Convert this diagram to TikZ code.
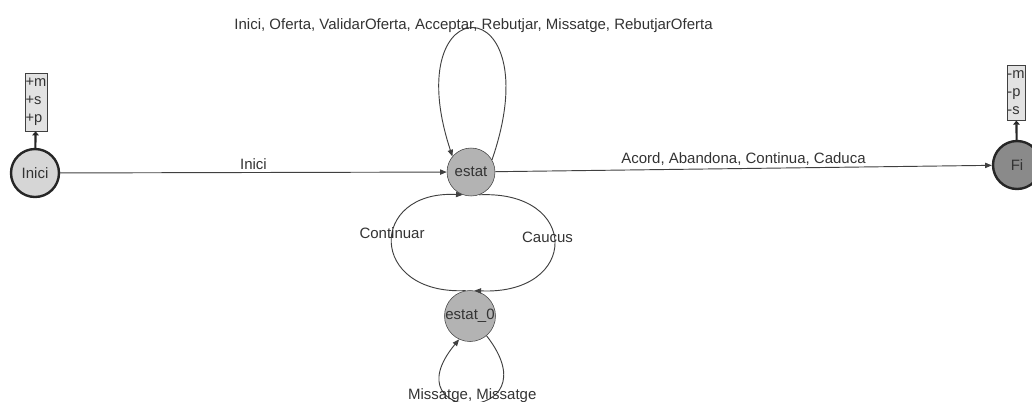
\documentclass[tikz,border=0pt]{standalone}
\usepackage{fontspec}
\setmainfont{Liberation Sans}
\usetikzlibrary{positioning,arrows.meta}
\definecolor{edgegray}{HTML}{404040}
\definecolor{labelgray}{HTML}{333333}
\definecolor{startfill}{HTML}{D6D6D6}
\definecolor{midfill}{HTML}{B3B3B3}
\definecolor{endfill}{HTML}{8A8A8A}
\definecolor{varfill}{HTML}{E2E2E2}

\begin{document}
\begin{tikzpicture}[x=0.75pt,y=-0.75pt,
  font=\fontsize{11.25}{13}\selectfont,
  state/.style={circle,draw=edgegray,fill=midfill,minimum size=36pt,
                inner sep=0pt,text=labelgray},
  startstate/.style={state,fill=startfill,draw=black!85,line width=1.8pt},
  endstate/.style={state,fill=endfill,draw=black!85,line width=1.8pt},
  varbox/.style={draw=edgegray,fill=varfill,align=left,text=labelgray,
                 inner xsep=0.4pt,inner ysep=4pt,
                 font=\fontsize{11}{13.5}\selectfont},
  trans/.style={draw=edgegray,line width=0.7pt,
                -{Triangle[length=5pt,width=4pt]}},
  link/.style={draw=black!85,line width=1.6pt,
               -{Triangle[length=3pt,width=5pt]}},
  lbl/.style={text=labelgray}]
\useasboundingbox (0,0) rectangle (1032,401);
% States
\node[startstate] (inici) at (35,173) {Inici};
\node[state] (estat) at (471,172) {estat};
\node[state] (estat0) at (470,316) {estat\_0};
\node[endstate] (fi) at (1017,165) {Fi};
% Variable boxes
\node[varbox] (iniciVars) at (36,102) {+m\\+s\\+p};
\node[varbox] (fiVars) at (1016,93) {-m\\-p\\-s};
\draw[link] (inici) -- (iniciVars);
\draw[link] (fi) -- (fiVars);
% Straight transitions
\draw[trans] (inici) -- node[lbl,above,inner sep=2pt] {Inici} (estat);
\draw[trans] (estat) -- node[lbl,above,inner sep=2pt]
  {Acord, Abandona, Continua, Caduca} (fi);
% Loop on estat
\draw[trans] (estat.30) .. controls (552,-15) and (396,-15) .. (estat.140)
  node[lbl,pos=.5,yshift=2pt]
  {Inici, Oferta, ValidarOferta, Acceptar, Rebutjar, Missatge, RebutjarOferta};
% Between estat and estat_0
\draw[trans] (estat.-70) .. controls (580,190) and (580,295) .. (estat0.80)
  node[lbl,pos=.5,xshift=-5pt,yshift=4pt] {Caucus};
\draw[trans] (estat0.100) .. controls (368,295) and (368,190) .. (estat.-110)
  node[lbl,pos=.5,yshift=7pt] {Continuar};
% Loop on estat_0
\draw[trans] (estat0.-50) .. controls (556,425) and (388,425) .. (estat0.-115)
  node[lbl,pos=.5,yshift=6pt] {Missatge, Missatge};
\end{tikzpicture}
\end{document}
